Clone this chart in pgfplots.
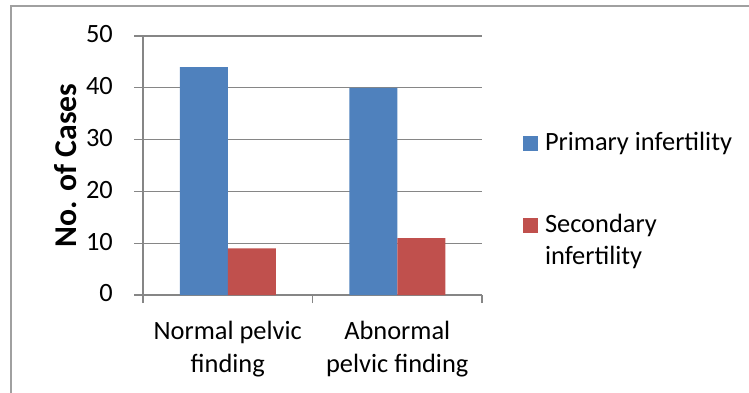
\documentclass[border=0pt]{standalone}
\usepackage{pgfplots}
\pgfplotsset{compat=1.18}
\usepackage{fontspec}
\setmainfont{Carlito}
\definecolor{primblue}{HTML}{4F81BD}
\definecolor{secred}{HTML}{C0504D}
\definecolor{axgray}{HTML}{868686}
\definecolor{framegray}{HTML}{A0A0A0}

\begin{document}
\begin{tikzpicture}[x=1pt,y=1pt,font=\fontsize{26.4}{32.2}\selectfont]
\useasboundingbox (0,0) rectangle (749,392);
% chart frame (only left and top edges fall inside the page)
\draw[framegray, line width=2pt] (10.5,-5) -- (10.5,385.5) -- (760,385.5);
\begin{axis}[
  at={(143pt,97pt)}, anchor=south west,
  width=339pt, height=259pt, scale only axis,
  xmin=0.5, xmax=2.5, ymin=0, ymax=50,
  ybar=0pt, bar width=48pt,
  axis x line=bottom, axis y line=left,
  axis line style={-, axgray, line width=1.2pt},
  xtick={1,2},
  xticklabels={{Normal pelvic\\finding},{Abnormal\\pelvic finding}},
  minor xtick={0.5,1.5,2.5},
  major x tick style={draw=none},
  minor x tick style={axgray, line width=1.2pt},
  ytick={0,10,20,30,40,50},
  y tick style={axgray, line width=1.2pt},
  tick align=outside,
  major tick length=9pt, minor tick length=8pt,
  ymajorgrids, grid style={axgray, line width=1.2pt},
  /pgf/number format/assume math mode=true,
  xticklabel style={align=center, inner sep=0pt, anchor=base, yshift=-68pt},
  yticklabel style={inner sep=0pt, anchor=east, xshift=-21pt, yshift=1.5pt},
  ylabel={No. of Cases},
  ylabel style={at={(axis description cs:-0.1976,0.5)}, anchor=base,
    inner sep=0pt, font=\fontsize{31.7}{38}\selectfont\bfseries},
  legend style={at={(axis description cs:1.121,0.629)}, anchor=north west,
    draw=none, fill=none, inner sep=0pt, outer sep=0pt,
    nodes={inner sep=0pt},
    cells={anchor=base west},
    column sep=7pt, row sep=62pt},
  clip=false,
]
\addplot[fill=primblue, draw=none,
  legend image code/.code={\fill[primblue] (0pt,-1pt) rectangle (15pt,14pt);}]
  coordinates {(1,44) (2,40)};
\addlegendentry{Primary infertility}
\addplot[fill=secred, draw=none,
  legend image code/.code={\fill[secred] (0pt,-1pt) rectangle (15pt,14pt);}]
  coordinates {(1,9) (2,11)};
\addlegendentry{\vtop{\hbox{Secondary}\hbox{infertility}}}
\end{axis}
\end{tikzpicture}
\end{document}
